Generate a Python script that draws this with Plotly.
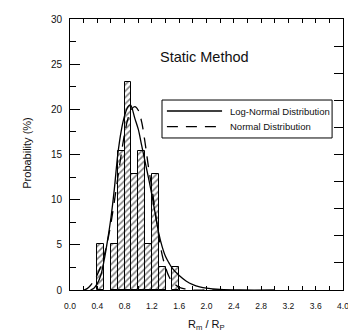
import plotly.graph_objects as go

# Histogram data (bin centers, probability %)
bin_centers = [0.45, 0.65, 0.75, 0.85, 0.95, 1.05, 1.15, 1.25, 1.35, 1.55]
bin_values = [5.13, 5.13, 15.38, 23.08, 12.82, 15.38, 5.13, 12.82, 2.56, 2.56]
bin_width = 0.1

# Log-normal fitted curve
logn_x = [0.30, 0.35, 0.40, 0.45, 0.50, 0.55, 0.60, 0.65, 0.70, 0.75, 0.80, 0.85, 0.885,
          0.95, 1.00, 1.05, 1.10, 1.15, 1.20, 1.25, 1.30, 1.35, 1.40, 1.45, 1.50, 1.60,
          1.70, 1.80, 1.90, 2.00, 2.20, 2.50, 3.00]
logn_y = [0.0, 0.2, 0.7, 1.6, 3.3, 5.5, 8.0, 11.2, 15.0, 17.6, 19.3, 20.3, 20.5,
          19.0, 17.8, 16.0, 14.2, 12.4, 10.5, 8.4, 6.3, 4.8, 3.7, 3.0, 2.4, 1.6,
          1.0, 0.6, 0.35, 0.2, 0.06, 0.0, 0.0]

# Normal fitted curve
norm_x = [0.20, 0.25, 0.30, 0.35, 0.40, 0.45, 0.50, 0.55, 0.60, 0.65, 0.70, 0.75, 0.80,
          0.85, 0.90, 0.95, 1.00, 1.05, 1.10, 1.15, 1.20, 1.25, 1.30, 1.35, 1.40, 1.45,
          1.50, 1.60, 1.70, 1.80, 2.00, 2.20]
norm_y = [0.0, 0.15, 0.5, 1.0, 1.7, 2.6, 3.8, 5.4, 7.4, 9.8, 12.4, 15.0, 17.3,
          19.0, 20.0, 20.3, 19.9, 18.6, 16.3, 13.6, 11.3, 8.6, 6.0, 3.9, 2.5, 1.5,
          0.9, 0.3, 0.1, 0.0, 0.0, 0.0]

x_tickvals = [0.0, 0.4, 0.8, 1.2, 1.6, 2.0, 2.4, 2.8, 3.2, 3.6, 4.0]
x_ticktext = ["0.0", "0.4", "0.8", "1.2", "1.6", "2.0", "2.4", "2.8", "3.2", "3.6", "4.0"]
y_tickvals = [0, 5, 10, 15, 20, 25, 30]

FONT = "Liberation Sans, Arial, sans-serif"

fig = go.Figure()
fig.add_trace(go.Bar(
    x=bin_centers, y=bin_values, width=[bin_width] * len(bin_centers),
    marker=dict(color="white", line=dict(color="black", width=1),
                pattern=dict(shape="/", fgcolor="black", bgcolor="white", size=4.5, solidity=0.35)),
    showlegend=False,
))
fig.add_trace(go.Scatter(x=logn_x, y=logn_y, mode="lines", line=dict(color="black", width=1.3, shape="spline"),
                         showlegend=False))
fig.add_trace(go.Scatter(x=norm_x, y=norm_y, mode="lines",
                         line=dict(color="black", width=1.3, dash="11px,8px", shape="spline"),
                         showlegend=False))
# invisible trace for mirror axes
fig.add_trace(go.Scatter(x=[0], y=[0], xaxis="x2", yaxis="y2", mode="markers",
                         marker=dict(opacity=0), showlegend=False, hoverinfo="skip"))

fig.update_layout(
    width=348, height=335,
    margin=dict(l=70, r=5, t=19, b=45, autoexpand=False),
    paper_bgcolor="white", plot_bgcolor="white",
    font=dict(family=FONT, color="#111"),
    xaxis=dict(range=[0, 4], tickvals=x_tickvals, ticktext=x_ticktext, ticks="inside", ticklen=4,
               tickcolor="black", showline=True, linecolor="black", linewidth=1, showgrid=False,
               zeroline=False, tickfont=dict(size=8.5), ticklabelstandoff=8, automargin=False,
               ticklabeloverflow="allow",
               minor=dict(dtick=0.2, ticks="inside", ticklen=4, tickcolor="black")),
    yaxis=dict(range=[0, 30], tickvals=y_tickvals, ticks="inside", ticklen=10, tickcolor="black",
               showline=True, linecolor="black", linewidth=1, showgrid=False, zeroline=False,
               tickfont=dict(size=10), ticklabelstandoff=5, automargin=False,
               minor=dict(dtick=2.5, ticks="inside", ticklen=6, tickcolor="black")),
    xaxis2=dict(range=[0, 4], overlaying="x", side="top", dtick=0.2, ticks="inside", ticklen=4,
                tickcolor="black", showline=True, linecolor="black", linewidth=1, automargin=False,
                showticklabels=False, showgrid=False, zeroline=False),
    yaxis2=dict(range=[0, 30], overlaying="y", side="right", dtick=3, ticks="inside", ticklen=9,
                tickcolor="black", showline=True, linecolor="black", linewidth=1, automargin=False,
                showticklabels=False, showgrid=False, zeroline=False),
    bargap=0,
)

# axis titles
fig.add_annotation(text="Probability (%)", xref="paper", yref="paper", x=-0.158, y=0.506,
                   textangle=-90, showarrow=False, font=dict(size=11), xanchor="center", yanchor="middle")
fig.add_annotation(text="R<sub>m</sub> / R<sub>P</sub>", xref="paper", yref="paper", x=0.5, y=-0.13,
                   showarrow=False, font=dict(size=11), xanchor="center", yanchor="middle")
fig.add_annotation(text="Static Method", xref="paper", yref="paper", x=0.4945, y=0.86,
                   showarrow=False, font=dict(size=14.5), xanchor="center", yanchor="middle")

# legend box (manual)
fig.add_shape(type="rect", xref="paper", yref="paper", x0=0.337, x1=0.960, y0=0.561, y1=0.701,
              line=dict(color="black", width=1), fillcolor="white")
fig.add_shape(type="line", xref="paper", yref="paper", x0=0.355, x1=0.557, y0=0.6605, y1=0.6605,
              line=dict(color="black", width=1.3))
fig.add_shape(type="line", xref="paper", yref="paper", x0=0.355, x1=0.557, y0=0.6026, y1=0.6026,
              line=dict(color="black", width=1.3, dash="11px,8px"))
fig.add_annotation(text="Log-Normal Distribution", xref="paper", yref="paper", x=0.577, y=0.6605,
                   showarrow=False, font=dict(size=9.5), xanchor="left", yanchor="middle")
fig.add_annotation(text="Normal Distribution", xref="paper", yref="paper", x=0.577, y=0.6026,
                   showarrow=False, font=dict(size=9.5), xanchor="left", yanchor="middle")

fig.write_html("out.html", config={"displayModeBar": False},
               post_script="document.body.style.margin='0';document.body.style.overflow='hidden';")
